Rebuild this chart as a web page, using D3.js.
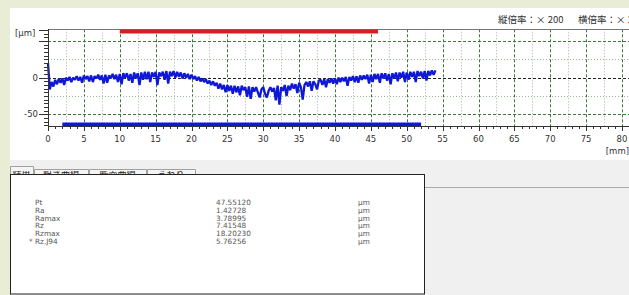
<!doctype html>
<html lang="ja">
<head>
<meta charset="utf-8">
<title>粗さ測定</title>
<style>
  body { margin: 0; background: #e9edd6; }
  svg { display: block; font-family: "DejaVu Sans", "Noto Sans CJK JP", sans-serif; }
  .tick-label { font-size: 8.5px; fill: #333; }
  .res { font-size: 7.3px; fill: #555; }
</style>
</head>
<body>
<svg id="chart" width="629" height="295"></svg>
<script src="https://cdn.jsdelivr.net/npm/d3@7"></script>
<script>
// profile height [um], sampled every 0.25 mm from 0 mm
const profileStart = 0, profileStep = 0.25;
const profileUm = [
  20, -16, -6, -12,   -3, -9, -2, -7,    -1, -10, 0, -4,    1, -6, 0, -3,
  2, -4, 1, -7,       3, -2, 2, -5,      3, -6, 2, -1,      4, -3, 3, -8,
  4, -7, 3, -1,       5, -2, 4, -6,      5, -9, 6, 0,       6, -4, 5, -7,
  7, -1, 6, -10,      7, -3, 8, -2,      8, -6, 7, 1,       8, -10, 7, 2,
  8, -3, 9, -8,       8, 2, 9, 0,        8, 1, 7, -1,       6, 0, 5, -2,
  4, -2, 2, -4,       1, -5, -1, -6,     -2, -8, -4, -10,   -5, -11, -7, -15,
  -8, -16, -10, -20,  -10, -18, -11, -22, -11, -20, -12, -24, -11, -17, -13, -26,
  -12, -29, -13, -19, -13, -20, -27, -16, -13, -22, -27, -18, -13, -19, -14, -31,
  -11, -37, -13, -18, -10, -25, -11, -17, -8, -15, -9, -21,  -7, -13, -30, -10,
  -6, -12, -5, -18,   -5, -9, -16, -4,   -3, -10, -2, -13,  -2, -7, -1, -8,
  -1, -9, 0, -6,      0, -5, 1, -11,     1, -4, 2, -6,      2, -7, 3, -3,
  3, -2, 4, -8,       4, -6, 5, -2,      5, -7, 6, -1,      6, -4, 5, -9,
  6, -1, 7, -5,       7, 0, 8, -6,       7, -3, 8, 1,       8, -6, 9, 2,
  8, -1, 9, -4,       9, 3, 10, 4,       10
];

// evaluation ranges [mm]
const redRange = [10, 46];
const blueRange = [2, 52];

const xTicks = [0, 5, 10, 15, 20, 25, 30, 35, 40, 45, 50, 55, 60, 65, 70, 75, 80];
const yTicks = [50, 0, -50];
const yTickLabels = ["", "0", "-50"];

const scaleText = ["縦倍率：× 200", "横倍率：× 20"];
const tabNames = ["結果", "粗さ曲線", "断面曲線", "うねり"];

const resultNames = ["Pt", "Ra", "Ramax", "Rz", "Rzmax", "Rz.J94"];
const resultValues = ["47.55120", "1.42728", "3.78995", "7.41548", "18.20230", "5.76256"];
const resultUnits = ["µm", "µm", "µm", "µm", "µm", "µm"];

const svg = d3.select("#chart");

// panels
svg.append("rect").attr("x", 10).attr("y", 8).attr("width", 619).attr("height", 152).attr("fill", "#fff");
svg.append("rect").attr("x", 10).attr("y", 160).attr("width", 619).attr("height", 135).attr("fill", "#f0f0f0");

let x = d3.scaleLinear().domain([0, 80]).range([48, 622]);
let y = d3.scaleLinear().domain([-66, 66]).range([126, 29.3]);

let g = svg.append("g");

// grid
let vgrid = d3.range(0, 83, 2.5).filter(d => d > 0);
g.selectAll(".vg").data(vgrid).enter().append("line")
    .attr("x1", d => Math.round(x(d)) + 0.5).attr("x2", d => Math.round(x(d)) + 0.5)
    .attr("y1", y(66)).attr("y2", y(-66))
    .attr("stroke", d => d % 5 === 0 ? "#3c7a3c" : "#9ab89a")
    .attr("stroke-width", 1)
    .attr("stroke-dasharray", d => d % 5 === 0 ? "3 2" : "1 2");

g.selectAll(".hg").data([50, 25, 0, -25, -50]).enter().append("line")
    .attr("x1", x(0)).attr("x2", 629)
    .attr("y1", d => Math.round(y(d)) + 0.5).attr("y2", d => Math.round(y(d)) + 0.5)
    .attr("stroke", d => d === 0 ? "#222" : (d % 50 === 0 ? "#3c7a3c" : "#9ab89a"))
    .attr("stroke-dasharray", d => d % 50 === 0 ? "3 2" : "1 2");

// frame top
g.append("line").attr("x1", x(0)).attr("x2", 629).attr("y1", 29.5).attr("y2", 29.5)
    .attr("stroke", "#777");

// red bar
g.append("line")
    .attr("x1", x(redRange[0])).attr("x2", x(redRange[1]))
    .attr("y1", 31.5).attr("y2", 31.5)
    .attr("stroke", "#d42020").attr("stroke-width", 4);

// profile
let line = d3.line()
    .x((d, i) => x(profileStart + i * profileStep))
    .y(d => y(d));

g.append("path")
    .datum(profileUm)
    .attr("fill", "none")
    .attr("stroke", "#1018d8")
    .attr("stroke-width", 2.3)
    .attr("stroke-linejoin", "bevel")
    .attr("d", line);

// blue bar
g.append("line")
    .attr("x1", x(blueRange[0])).attr("x2", x(blueRange[1]))
    .attr("y1", 124.5).attr("y2", 124.5)
    .attr("stroke", "#1018d8").attr("stroke-width", 4);

// x axis
let xAxis = svg.append("g").attr("transform", "translate(0,126)");
xAxis.append("line").attr("x1", x(0)).attr("x2", 629).attr("y1", 0.5).attr("y2", 0.5).attr("stroke", "#333");
xAxis.selectAll(".xm").data(d3.range(0, 84, 1)).enter().append("line")
    .attr("x1", d => Math.round(x(d)) + 0.5).attr("x2", d => Math.round(x(d)) + 0.5)
    .attr("y1", 0).attr("y2", d => d % 5 === 0 ? 5 : 3)
    .attr("stroke", "#333");
xAxis.selectAll(".xl").data(xTicks).enter().append("text")
    .attr("class", "tick-label")
    .attr("x", d => x(d)).attr("y", 16)
    .attr("text-anchor", "middle")
    .text(d => d);
svg.append("text").attr("class", "tick-label")
    .attr("x", 629).attr("y", 154).attr("text-anchor", "end").text("[mm]");

// y axis
let yAxis = svg.append("g");
yAxis.append("line").attr("x1", 48.5).attr("x2", 48.5).attr("y1", 29).attr("y2", 126).attr("stroke", "#333");
yAxis.selectAll(".ym").data(d3.range(-65, 66, 5)).enter().append("line")
    .attr("x1", d => d % 50 === 0 ? 39 : 44).attr("x2", 48)
    .attr("y1", d => Math.round(y(d)) + 0.5).attr("y2", d => Math.round(y(d)) + 0.5)
    .attr("stroke", "#333");
yAxis.append("line").attr("x1", 39).attr("x2", 48).attr("y1", 30.5).attr("y2", 30.5).attr("stroke", "#333");
yAxis.selectAll(".yl").data(yTicks).enter().append("text")
    .attr("class", "tick-label")
    .attr("x", 38).attr("y", d => y(d) + 3)
    .attr("text-anchor", "end")
    .text((d, i) => yTickLabels[i]);
svg.append("text").attr("class", "tick-label")
    .attr("x", 15).attr("y", 36).text("[µm]");

// magnification text
svg.selectAll(".mag").data(scaleText).enter().append("text")
    .attr("x", (d, i) => i === 0 ? 498 : 578)
    .attr("y", 23)
    .attr("font-size", 9.5)
    .attr("font-family", "'Noto Sans CJK JP', sans-serif")
    .attr("fill", "#333")
    .text(d => d);

// tabs (labels mostly hidden behind the results box)
const tabs = [[10, 33, 166], [34, 88, 169], [89, 146, 169], [147, 195, 169]];
svg.append("clipPath").attr("id", "tabclip")
    .append("rect").attr("x", 0).attr("y", 171).attr("width", 629).attr("height", 4);
svg.selectAll(".tab").data(tabs).enter().append("path")
    .attr("d", d => `M${d[0] + 0.5},175 V${d[2] + 0.5} H${d[1] + 0.5} V175`)
    .attr("fill", "#f4f4f4").attr("stroke", "#a0a0a0");
svg.selectAll(".tabtxt").data(tabs).enter().append("text")
    .attr("clip-path", "url(#tabclip)")
    .attr("x", d => (d[0] + d[1]) / 2).attr("y", 178)
    .attr("text-anchor", "middle")
    .attr("font-size", 9)
    .attr("font-family", "'Noto Sans CJK JP', sans-serif")
    .attr("fill", "#222")
    .text((d, i) => tabNames[i]);

// results box
svg.append("line").attr("x1", 424).attr("x2", 629).attr("y1", 187.5).attr("y2", 187.5).attr("stroke", "#aaa");
svg.append("rect").attr("x", 10.5).attr("y", 174.5).attr("width", 414).attr("height", 119.5)
    .attr("fill", "#fff").attr("stroke", "#222");

let rowY = d3.scaleLinear().domain([0, 5]).range([205, 244]);
let rows = svg.append("g");
rows.selectAll(".rn").data(resultNames).enter().append("text")
    .attr("class", "res").attr("x", 35).attr("y", (d, i) => rowY(i)).text(d => d);
rows.append("text").attr("class", "res").attr("x", 29).attr("y", rowY(5)).text("*");
rows.selectAll(".rv").data(resultValues).enter().append("text")
    .attr("class", "res").attr("x", 216).attr("y", (d, i) => rowY(i)).text(d => d);
rows.selectAll(".ru").data(resultUnits).enter().append("text")
    .attr("class", "res").attr("x", 358).attr("y", (d, i) => rowY(i)).text(d => d);
</script>
</body>
</html>
